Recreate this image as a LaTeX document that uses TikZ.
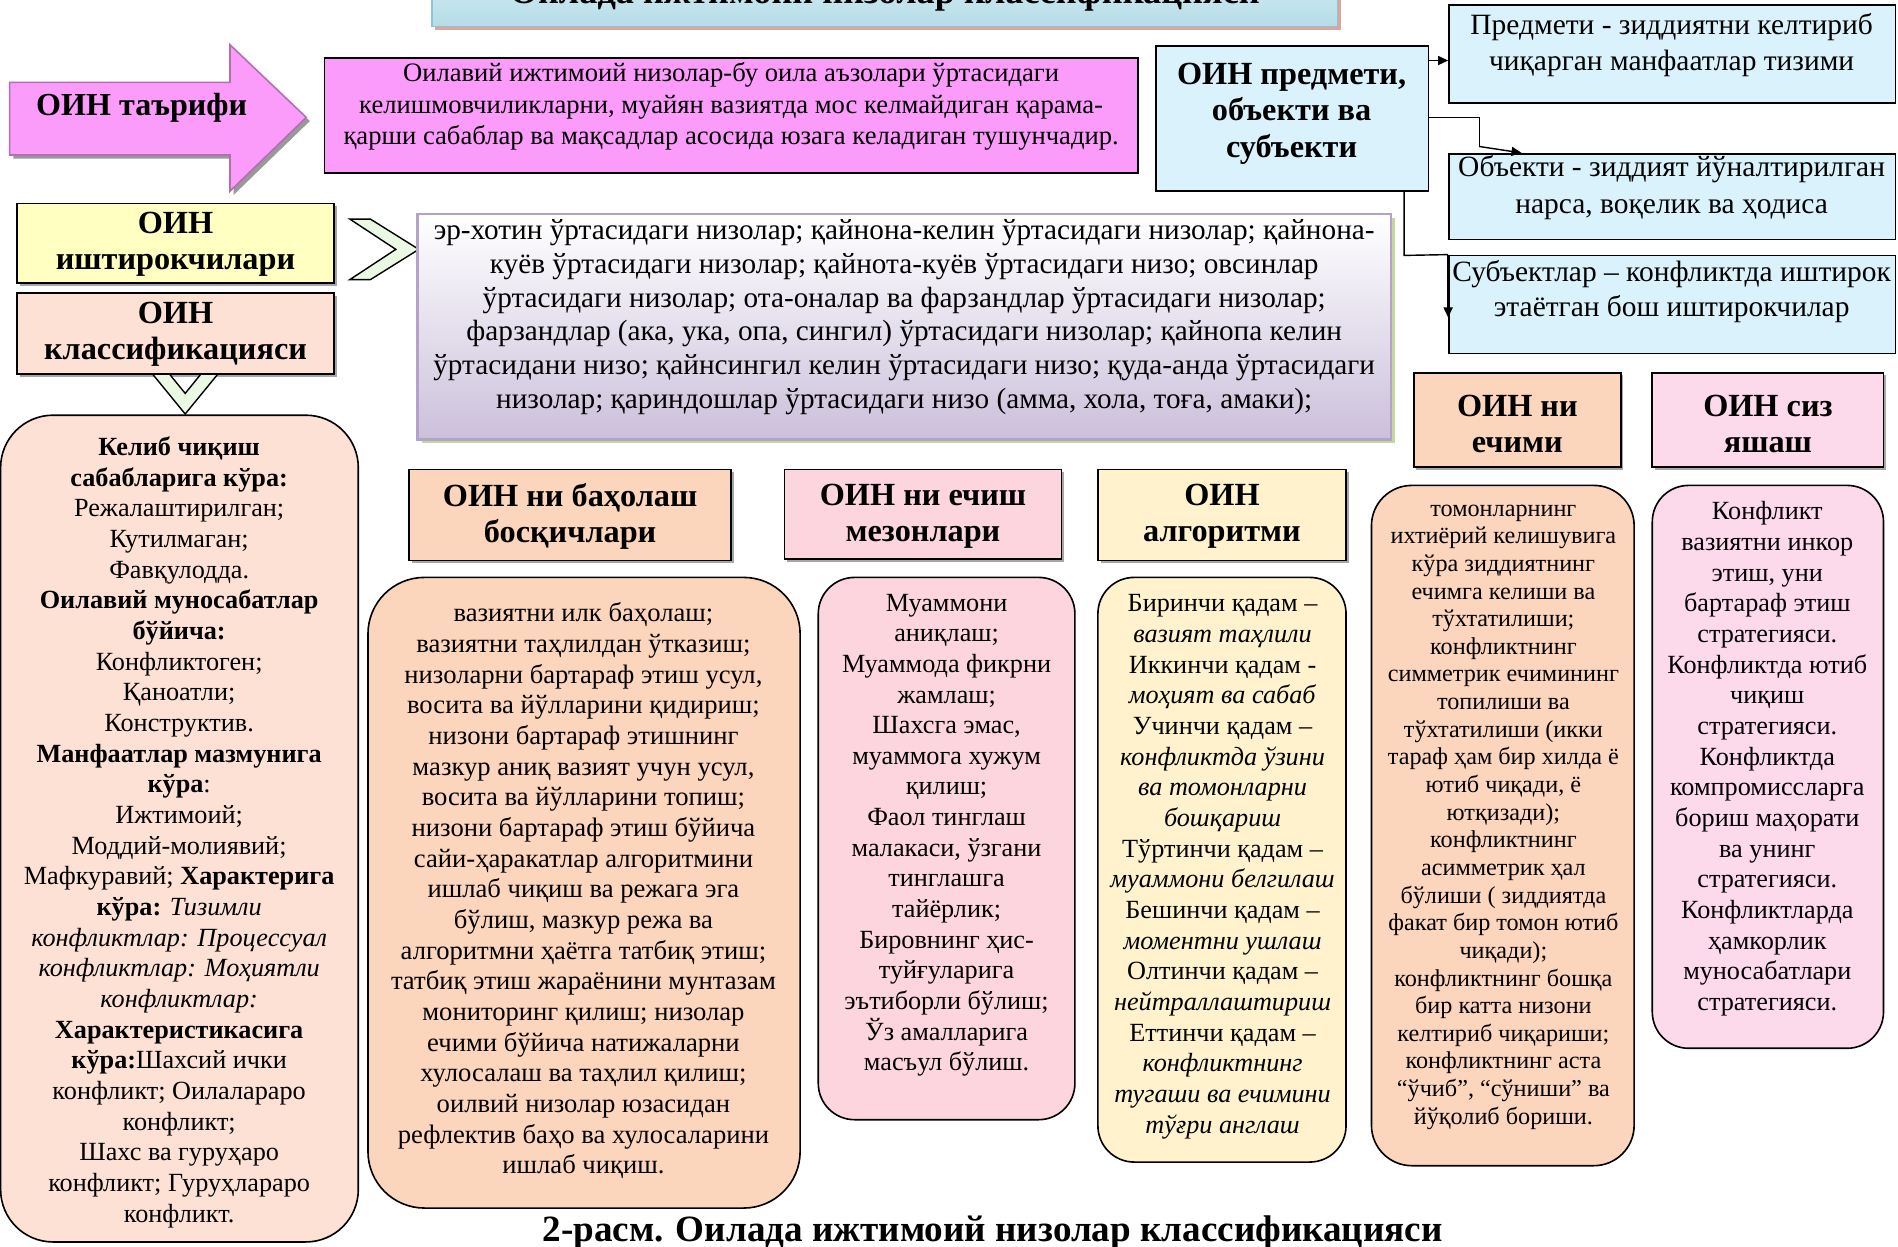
\documentclass[tikz,border=0pt]{standalone}
\usepackage{fontspec}
\setmainfont{Liberation Serif}
\usetikzlibrary{arrows.meta,shadows,fit,calc}
\definecolor{pinkM}{HTML}{FB9CFB}
\definecolor{pinkB}{HTML}{B070B0}
\definecolor{cyanL}{HTML}{DAF2FB}
\definecolor{yellowL}{HTML}{FFFFC2}
\definecolor{peachL}{HTML}{FDE1D5}
\definecolor{peach}{HTML}{FCD5BD}
\definecolor{pinkL}{HTML}{FCD5DF}
\definecolor{yellowA}{HTML}{FFF2CC}
\definecolor{pinkS}{HTML}{FDD9EC}
\definecolor{lav}{HTML}{CBC0DB}
\definecolor{lavB}{HTML}{B3A3C8}
\definecolor{gsh}{HTML}{C4D79F}
\definecolor{chevG}{HTML}{EAF8E4}
\definecolor{titT}{HTML}{E2F4F8}
\definecolor{titB}{HTML}{B4DCE7}
\definecolor{titD}{HTML}{8EC5D5}
\definecolor{salm}{HTML}{DDA49C}
\tikzset{
  base/.style={draw=black, line width=0.8pt, inner sep=0pt},
  shd/.style={drop shadow={shadow xshift=1.3pt, shadow yshift=-1.3pt, fill=black!35, opacity=1}},
  hdr/.style={base, shd},
  htext/.style={align=center, inner sep=0pt, font=\bfseries\fontsize{16}{18}\selectfont},
  rbox/.style={base, rounded corners=#1},
  body/.style={align=center, inner sep=0pt, font=\fontsize{13}{15.2}\selectfont},
  cyanbox/.style={base, fill=cyanL},
  ctext/.style={align=center, inner sep=0pt, font=\fontsize{14.6}{18}\selectfont},
  arr/.style={-{Triangle[length=5pt,width=4.5pt]}, line width=0.7pt},
  ln/.style={line width=0.7pt},
  chev/.style={draw=black, line width=0.7pt, fill=chevG}
}
\begin{document}
\begin{tikzpicture}[x=0.6pt,y=-0.6pt]
\useasboundingbox (0,0) rectangle (1568,1030);
\clip (0,0) rectangle (1568,1030);
\fill[white] (0,0) rectangle (1568,1030);

% title
\node[draw=titD, line width=0.8pt, top color=titT, bottom color=titB,
  drop shadow={shadow xshift=1.5pt, shadow yshift=-1.8pt, fill=salm, opacity=1},
  inner sep=0pt, fit={(357,-40) (1105,22)}] (title) {};
\node[anchor=base, inner sep=0pt, font=\bfseries\fontsize{18}{20}\selectfont] (titletext) at (731,3) {Оилада ижтимоий низолар классификацияси};

% definition arrow
\fill[black!40] (11,71) -- (193,71) -- (193,40) -- (256,100) -- (193,161) -- (193,131) -- (11,131) -- cycle;
\draw[pinkB, line width=0.8pt, fill=pinkM] (8,68) -- (190,68) -- (190,37) -- (253,97) -- (190,158) -- (190,128) -- (8,128) -- cycle;
\node[inner sep=0pt, font=\bfseries\fontsize{15.9}{19}\selectfont] (deflabel) at (117,89) {ОИН таърифи};

\node[base, fill=pinkM, fit={(268,48) (940,143)}] (defbox) {};
\node[align=center, inner sep=0pt, font=\fontsize{13.2}{15.6}\selectfont] (deftext) at (604,88)
 {Оилавий ижтимоий низолар-бу оила аъзолари ўртасидаги\\
  келишмовчиликларни, муайян вазиятда мос келмайдиган қарама-\\
  қарши сабаблар ва мақсадлар асосида юзага келадиган тушунчадир.};

% subject / object
\node[base, fill=cyanL, fit={(955,38) (1180,158)}] (obox) {};
\node[align=center, inner sep=0pt, font=\bfseries\fontsize{16}{18.3}\selectfont] (oboxt) at (1067,94) {ОИН предмети,\\объекти ва\\субъекти};
\node[cyanbox, fit={(1197,4) (1566,85)}] (predm) {};
\node[ctext] (predmt) at (1381,37) {Предмети - зиддиятни келтириб\\чиқарган манфаатлар тизими};
\node[cyanbox, fit={(1197,127) (1566,198)}] (objb) {};
\node[ctext] (objt) at (1381,155) {Объекти - зиддият йўналтирилган\\нарса, воқелик ва ҳодиса};
\node[cyanbox, fit={(1197,211) (1566,292)}] (subj) {};
\node[ctext, font=\fontsize{14.6}{17}\selectfont] (subjt) at (1381,241) {Субъектлар – конфликтда иштирок\\этаётган бош иштирокчилар};

\draw[arr] (obox.east |- 0,50) -- (predm.west |- 0,50);
\draw[ln] (obox.east |- 0,97) -- (1222,97) -- (1222,121);
\draw[arr] (1222,121) -- (objb.north west -| 1257,0) ;
\draw[ln] (obox.south -| 1160,0) -- (1160,211) -- (subj.north west);
\draw[arr] (subj.north west) -- ++(0,52);

% participants
\node[hdr, fill=yellowL, fit={(14,168) (276,234)}] (part) {};
\node[htext] (partt) at (145,201.5) {ОИН\\иштирокчилари};
\draw[chev] (289,181) -- (306,181) -- (346,206) -- (306,231) -- (289,231) -- (327,206) -- cycle;
\node[draw=lavB, line width=1.2pt, top color=white, bottom color=lav, inner sep=0pt,
  drop shadow={shadow xshift=2pt, shadow yshift=-2pt, fill=gsh, opacity=1},
  fit={(345,177) (1149,363)}] (pbox) {};
\node[align=center, inner sep=0pt, font=\fontsize{14.5}{16.8}\selectfont] (ptext) at (747,262)
 {эр-хотин ўртасидаги низолар; қайнона-келин ўртасидаги низолар; қайнона-\\
  куёв ўртасидаги низолар; қайнота-куёв ўртасидаги низо; овсинлар\\
  ўртасидаги низолар; ота-оналар ва фарзандлар ўртасидаги низолар;\\
  фарзандлар (ака, ука, опа, сингил) ўртасидаги низолар; қайнопа келин\\
  ўртасидани низо; қайнсингил келин ўртасидаги низо; қуда-анда ўртасидаги\\
  низолар; қариндошлар ўртасидаги низо (амма, хола, тоға, амаки);};

% classification
\node[hdr, fill=peachL, fit={(14,242) (276,309)}] (cls) {};
\node[htext] (clst) at (145,276) {ОИН\\классификацияси};
\node[rbox=26pt, fill=peachL, fit={(0.5,343) (296,1026)}] (clsbox) {};
\draw[chev] (126,309) -- (153,342) -- (180,309) -- (166,309) -- (153,325) -- (140,309) -- cycle;
\node[body] (clstext) at (148,687.5)
 {\textbf{Келиб чиқиш}\\
  \textbf{сабабларига кўра:}\\
  Режалаштирилган;\\
  Кутилмаган;\\
  Фавқулодда.\\
  \textbf{Оилавий муносабатлар}\\
  \textbf{бўйича:}\\
  Конфликтоген;\\
  Қаноатли;\\
  Конструктив.\\
  \textbf{Манфаатлар мазмунига}\\
  \textbf{кўра}:\\
  Ижтимоий;\\
  Моддий-молиявий;\\
  Мафкуравий; \textbf{Характерига}\\
  \textbf{кўра:} \textit{Тизимли}\\
  \textit{конфликтлар: Процессуал}\\
  \textit{конфликтлар: Моҳиятли}\\
  \textit{конфликтлар:}\\
  \textbf{Характеристикасига}\\
  \textbf{кўра:}Шахсий ички\\
  конфликт; Оилалараро\\
  конфликт;\\
  Шахс ва гуруҳаро\\
  конфликт; Гуруҳлараро\\
  конфликт.};

% assessment
\node[hdr, fill=peach, fit={(338,388) (604,463)}] (h1) {};
\node[htext] (h1t) at (471,426.5) {ОИН ни баҳолаш\\босқичлари};
\node[rbox=28pt, fill=peach, fit={(304,477) (661,998)}] (b1) {};
\node[body, font=\fontsize{13.2}{15.2}\selectfont] (t1) at (482,736)
 {вазиятни илк баҳолаш;\\
  вазиятни таҳлилдан ўтказиш;\\
  низоларни бартараф этиш усул,\\
  восита ва йўлларини қидириш;\\
  низони бартараф этишнинг\\
  мазкур аниқ вазият учун усул,\\
  восита ва йўлларини топиш;\\
  низони бартараф этиш бўйича\\
  сайи-ҳаракатлар алгоритмини\\
  ишлаб чиқиш ва режага эга\\
  бўлиш, мазкур режа ва\\
  алгоритмни ҳаётга татбиқ этиш;\\
  татбиқ этиш жараёнини мунтазам\\
  мониторинг қилиш; низолар\\
  ечими бўйича натижаларни\\
  хулосалаш ва таҳлил қилиш;\\
  оилвий низолар юзасидан\\
  рефлектив баҳо ва хулосаларини\\
  ишлаб чиқиш.};

% criteria
\node[hdr, fill=pinkL, fit={(648,388) (877,462)}] (h2) {};
\node[htext] (h2t) at (762.5,426.5) {ОИН ни ечиш\\мезонлари};
\node[rbox=18pt, fill=pinkL, fit={(676,477) (888,925)}] (b2) {};
\node[body] (t2) at (782,690)
 {Муаммони\\
  аниқлаш;\\
  Муаммода фикрни\\
  жамлаш;\\
  Шахсга эмас,\\
  муаммога хужум\\
  қилиш;\\
  Фаол тинглаш\\
  малакаси, ўзгани\\
  тинглашга\\
  тайёрлик;\\
  Бировнинг ҳис-\\
  туйғуларига\\
  эътиборли бўлиш;\\
  Ўз амалларига\\
  масъул бўлиш.};

% algorithm
\node[hdr, fill=yellowA, fit={(907,388) (1112,463)}] (h3) {};
\node[htext] (h3t) at (1009.5,426.5) {ОИН\\алгоритми};
\node[rbox=18pt, fill=yellowA, fit={(907,477) (1112,960)}] (b3) {};
\node[body] (t3) at (1010,716)
 {Биринчи қадам –\\
  \textit{вазият таҳлили}\\
  Иккинчи қадам -\\
  \textit{моҳият ва сабаб}\\
  Учинчи қадам –\\
  \textit{конфликтда ўзини}\\
  \textit{ва томонларни}\\
  \textit{бошқариш}\\
  Тўртинчи қадам –\\
  \textit{муаммони белгилаш}\\
  Бешинчи қадам –\\
  \textit{моментни ушлаш}\\
  Олтинчи қадам –\\
  \textit{нейтраллаштириш}\\
  Еттинчи қадам –\\
  \textit{конфликтнинг}\\
  \textit{тугаши ва ечимини}\\
  \textit{тўғри англаш}};

% resolution
\node[hdr, fill=peach, fit={(1168,308) (1339,386)}] (h4) {};
\node[htext] (h4t) at (1253.5,350) {ОИН ни\\ечими};
\node[rbox=20pt, fill=peach, fit={(1133,401) (1350,963)}] (b4) {};
\node[align=center, inner sep=0pt, font=\fontsize{12}{13.7}\selectfont] (t4) at (1242,675)
 {томонларнинг\\
  ихтиёрий келишувига\\
  кўра зиддиятнинг\\
  ечимга келиши ва\\
  тўхтатилиши;\\
  конфликтнинг\\
  симметрик ечимининг\\
  топилиши ва\\
  тўхтатилиши (икки\\
  тараф ҳам бир хилда ё\\
  ютиб чиқади, ё\\
  ютқизади);\\
  конфликтнинг\\
  асимметрик ҳал\\
  бўлиши ( зиддиятда\\
  факат бир томон ютиб\\
  чиқади);\\
  конфликтнинг бошқа\\
  бир катта низони\\
  келтириб чиқариши;\\
  конфликтнинг аста\\
  “ўчиб”, “сўниши” ва\\
  йўқолиб бориши.};

% without conflict
\node[hdr, fill=pinkS, fit={(1365,308) (1556,386)}] (h5) {};
\node[htext] (h5t) at (1460.5,350) {ОИН сиз\\яшаш};
\node[rbox=18pt, fill=pinkS, fit={(1365,401) (1556,866)}] (b5) {};
\node[body] (t5) at (1460,627)
 {Конфликт\\
  вазиятни инкор\\
  этиш, уни\\
  бартараф этиш\\
  стратегияси.\\
  Конфликтда ютиб\\
  чиқиш\\
  стратегияси.\\
  Конфликтда\\
  компромиссларга\\
  бориш маҳорати\\
  ва унинг\\
  стратегияси.\\
  Конфликтларда\\
  ҳамкорлик\\
  муносабатлари\\
  стратегияси.};

% caption
\node[anchor=base, inner sep=0pt, font=\bfseries\fontsize{18.4}{20}\selectfont] (caption) at (820,1026) {2-расм. Оилада ижтимоий низолар классификацияси};
\end{tikzpicture}
\end{document}
